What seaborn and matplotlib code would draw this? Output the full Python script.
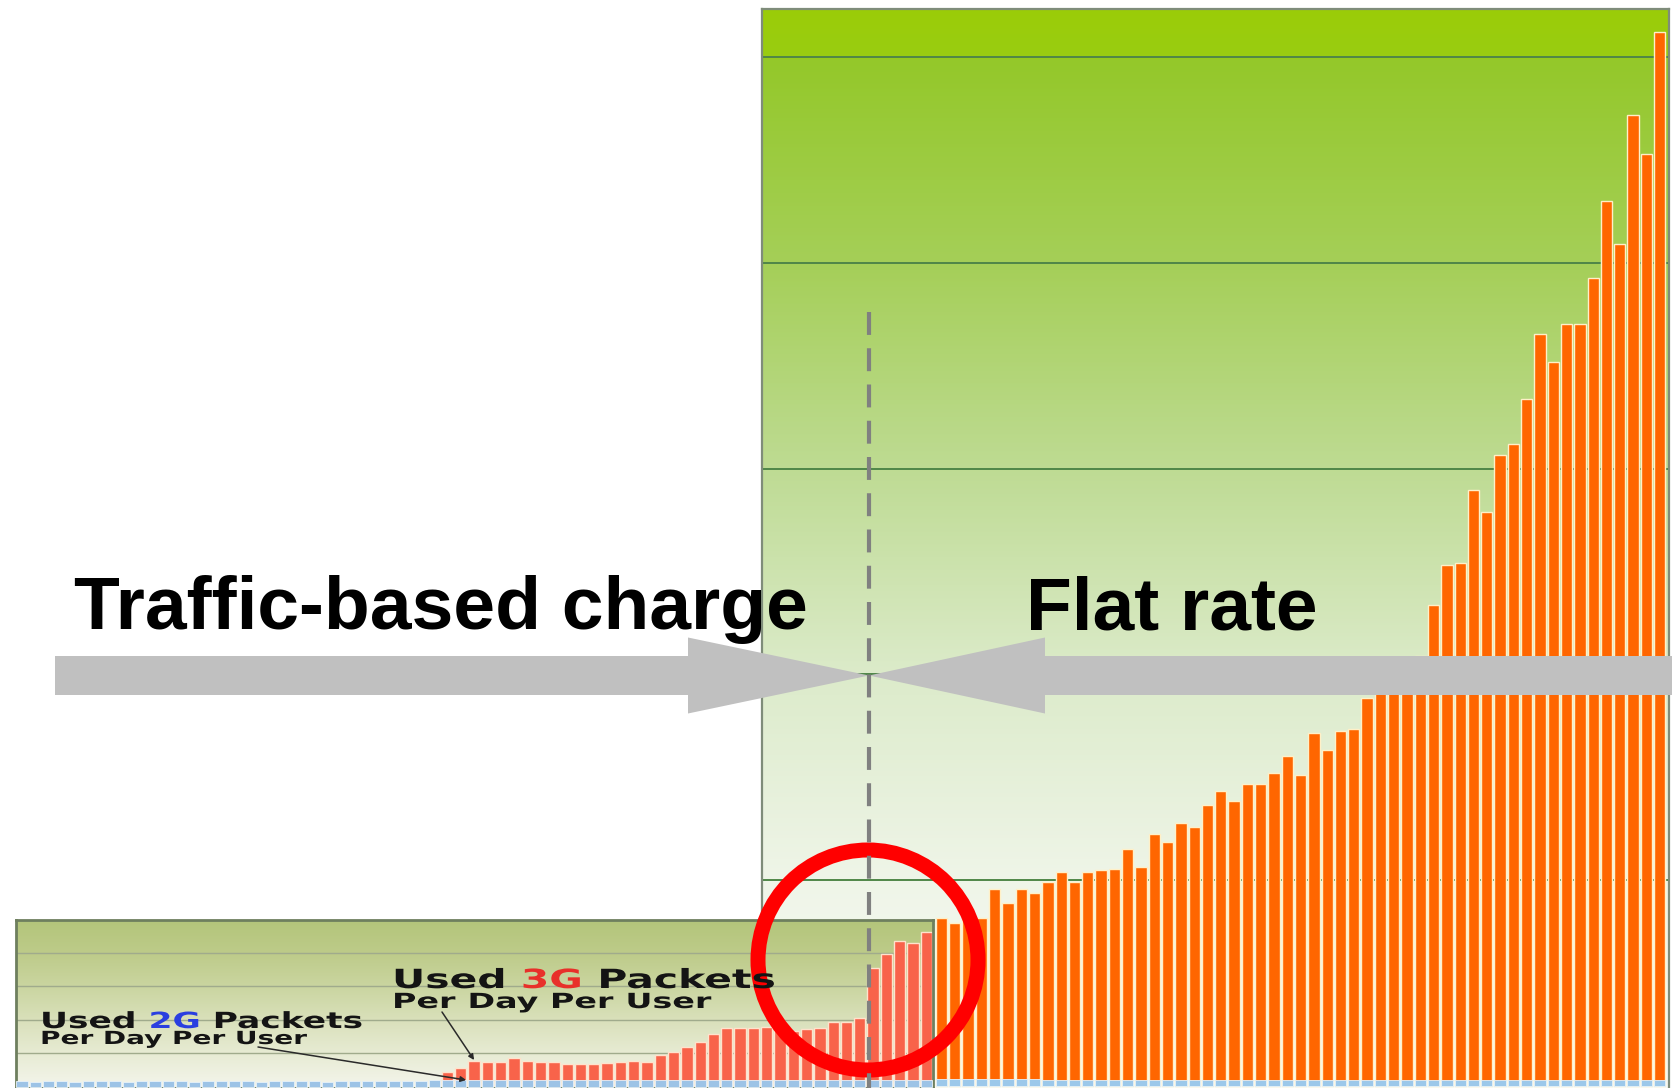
import numpy as np
import matplotlib
matplotlib.use("Agg")
import matplotlib.pyplot as plt
import seaborn as sns
from matplotlib.colors import LinearSegmentedColormap
from matplotlib.patches import Circle, FancyArrow
from matplotlib.transforms import Affine2D
import matplotlib.patheffects as pe

# ---------------------------------------------------------------------------
# Data
# ---------------------------------------------------------------------------
# Large panel: daily 3G packets per user after the move to a flat rate
periods_flat = list(range(1, 56))
flat_3g = [0.818, 0.790, 0.816, 0.818, 0.957, 0.891, 0.956, 0.936, 0.993, 1.038,
           0.993, 1.038, 1.048, 1.056, 1.150, 1.066, 1.223, 1.184, 1.276, 1.257,
           1.367, 1.432, 1.385, 1.467, 1.467, 1.522, 1.603, 1.513, 1.714, 1.633,
           1.723, 1.733, 1.887, 1.930, 1.960, 2.000, 2.089, 2.337, 2.532, 2.541,
           2.896, 2.789, 3.066, 3.120, 3.338, 3.654, 3.518, 3.703, 3.703, 3.926,
           4.300, 4.091, 4.718, 4.529, 5.121]
flat_2g = [0.035, 0.035, 0.034, 0.035, 0.036, 0.035, 0.034, 0.033, 0.030, 0.030,
           0.030, 0.031, 0.030, 0.030, 0.030, 0.029, 0.030, 0.030, 0.031, 0.030,
           0.030, 0.030, 0.030, 0.030, 0.030, 0.029, 0.030, 0.031, 0.030, 0.030,
           0.030, 0.030, 0.030, 0.029, 0.030, 0.030, 0.030, 0.030, 0.030, 0.030,
           0.029, 0.030, 0.030, 0.030, 0.030, 0.030, 0.030, 0.030, 0.029, 0.030,
           0.030, 0.030, 0.030, 0.030, 0.030]

# Small panel: daily packets per user under traffic-based charging
periods_traffic = list(range(1, 70))
traffic_2g = [0.16, 0.15, 0.17, 0.16, 0.15, 0.16, 0.17, 0.16, 0.15, 0.16,
              0.16, 0.17, 0.16, 0.15, 0.16, 0.17, 0.16, 0.16, 0.15, 0.16,
              0.17, 0.16, 0.16, 0.15, 0.16, 0.17, 0.16, 0.16, 0.17, 0.18,
              0.18, 0.19, 0.20, 0.20, 0.19, 0.20, 0.20, 0.19, 0.20, 0.20,
              0.19, 0.20, 0.20, 0.19, 0.20, 0.20, 0.19, 0.20, 0.20, 0.19,
              0.20, 0.20, 0.19, 0.20, 0.20, 0.19, 0.20, 0.20, 0.19, 0.20,
              0.20, 0.19, 0.20, 0.20, 0.19, 0.20, 0.20, 0.19, 0.20]
traffic_3g = [0.449, 0.569, 0.769, 0.749, 0.749, 0.850, 0.769, 0.749, 0.749, 0.671,
              0.671, 0.671, 0.701, 0.731, 0.769, 0.749, 0.949, 1.048, 1.198, 1.347,
              1.569, 1.749, 1.749, 1.766, 1.796, 1.772, 1.668, 1.713, 1.772, 1.946,
              1.946, 2.066, 3.554, 3.964, 4.377, 4.293, 4.641]
periods_traffic_3g = periods_traffic[len(periods_traffic) - len(traffic_3g):]

# ---------------------------------------------------------------------------
# Figure layout (pixel based)
# ---------------------------------------------------------------------------
sns.set_style("white")
plt.rcParams["font.family"] = ["DejaVu Sans"]

W, H = 1672, 1088
fig = plt.figure(figsize=(W / 100, H / 100), dpi=100)
fig.patch.set_facecolor("white")


def px_axes(left, top, right, bottom, z):
    return fig.add_axes([left / W, 1 - bottom / H, (right - left) / W, (bottom - top) / H],
                        zorder=z)


ax_big = px_axes(762, 8.5, 1669, H, 1)
ax_small = px_axes(16, 919.7, 933, H, 2)
ax_top = px_axes(0, 0, W, H, 3)


def gradient(ax, stops, xlim, ylim):
    y0, y1 = ylim
    span = y1 - y0
    cmap = LinearSegmentedColormap.from_list(
        "bg", [((v - y0) / span, c) for v, c in stops])
    ax.imshow(np.linspace(0, 1, 512)[:, None], extent=(xlim[0], xlim[1], y0, y1),
              origin="lower", aspect="auto", cmap=cmap, vmin=0, vmax=1,
              interpolation="bilinear", zorder=0)


# ---------------------------------------------------------------------------
# Large panel
# ---------------------------------------------------------------------------
big_xlim = (-13.5, 54.7)
big_ylim = (-0.01, 5.236)
gradient(ax_big, [(-0.01, "#f9fbf6"), (1.0, "#eff5e8"), (2.0, "#dcebca"),
                  (3.0, "#bedb93"), (4.0, "#a5cf58"), (4.99, "#94c82a"),
                  (5.0, "#99cc12"), (5.236, "#9bcd08")], big_xlim, big_ylim)
for v in [1, 2, 3, 4, 5]:
    ax_big.axhline(v, color="#4f8648", lw=1.4, zorder=0.5)

sns.barplot(x=periods_flat, y=flat_3g, order=periods_flat, color="#ff6600",
            saturation=1, width=0.85, edgecolor="#fff0c8", linewidth=1.0,
            errorbar=None, ax=ax_big, zorder=2)
sns.barplot(x=periods_flat, y=flat_2g, order=periods_flat, color="#9cc8ea",
            saturation=1, width=0.85, edgecolor="#e6f2fb", linewidth=0.6,
            errorbar=None, ax=ax_big, zorder=3)

ax_big.set_xlim(*big_xlim)
ax_big.set_ylim(*big_ylim)
ax_big.set_xticks([])
ax_big.set_yticks([])
ax_big.set_xlabel("")
ax_big.set_ylabel("")
for side in ["top", "left", "right"]:
    ax_big.spines[side].set_visible(True)
    ax_big.spines[side].set_color("#7f8c7a")
    ax_big.spines[side].set_linewidth(1.6)
ax_big.spines["bottom"].set_visible(False)

# ---------------------------------------------------------------------------
# Small panel
# ---------------------------------------------------------------------------
small_xlim = (-0.44, 68.5)
small_ylim = (-0.039, 5.0)
gradient(ax_small, [(-0.039, "#f4f5ec"), (1.0, "#e7ebd3"), (2.0, "#d9e0ba"),
                    (3.0, "#cad5a0"), (4.0, "#bdcb89"), (5.0, "#b3c57a")],
         small_xlim, small_ylim)
for v in [1, 2, 3, 4]:
    ax_small.axhline(v, color="#a0ab8c", lw=1.0, zorder=0.5)

sns.barplot(x=periods_traffic_3g, y=traffic_3g, order=periods_traffic, color="#f8634a",
            saturation=1, width=0.85, edgecolor="#ffe2cc", linewidth=1.0,
            errorbar=None, ax=ax_small, zorder=2)
sns.barplot(x=periods_traffic, y=traffic_2g, order=periods_traffic, color="#9dc3e6",
            saturation=1, width=0.85, edgecolor="#e8f2fa", linewidth=0.6,
            errorbar=None, ax=ax_small, zorder=3)

ax_small.set_xlim(*small_xlim)
ax_small.set_ylim(*small_ylim)
ax_small.set_xticks([])
ax_small.set_yticks([])
ax_small.set_xlabel("")
ax_small.set_ylabel("")
for side in ["top", "left", "right", "bottom"]:
    ax_small.spines[side].set_visible(True)
    ax_small.spines[side].set_color("#6e7f5e")
    ax_small.spines[side].set_linewidth(2.0)

# ---------------------------------------------------------------------------
# Overlay: arrows, headings, divider, highlight
# ---------------------------------------------------------------------------
ax_top.set_xlim(0, W)
ax_top.set_ylim(H, 0)
ax_top.axis("off")
ax_top.patch.set_alpha(0)

arrow_kw = dict(width=39, head_width=76, length_includes_head=True,
                color="#c0c0c0", lw=0, zorder=4)
ax_top.add_patch(FancyArrow(55, 675.5, 869 - 55, 0, head_length=181, **arrow_kw))
ax_top.add_patch(FancyArrow(1690, 675.5, 869 - 1690, 0, head_length=176, **arrow_kw))

ax_top.add_patch(Circle((868, 960), 110, fill=False, ec="#ff0000", lw=10.8, zorder=5))
ax_top.plot([869, 869], [312, H], color="#808080", lw=3.0,
            linestyle=(0, (5.5, 3.2)), dash_capstyle="butt", zorder=6)

head_kw = dict(fontfamily="Liberation Sans", fontweight="bold", fontsize=54,
               color="black", va="baseline", ha="left", zorder=7)
ax_top.text(74, 629, "Traffic-based charge", **head_kw)
ax_top.text(1026, 629, "Flat rate", **head_kw)


class StretchX(pe.AbstractPathEffect):
    """Widen glyphs horizontally about a fixed x position (display pixels)."""

    def __init__(self, factor, anchor_x):
        super().__init__()
        self._factor = factor
        self._anchor = anchor_x

    def draw_path(self, renderer, gc, tpath, affine, rgbFace=None):
        widen = (Affine2D().translate(-self._anchor, 0)
                 .scale(self._factor, 1).translate(self._anchor, 0))
        renderer.draw_path(gc, tpath, affine + widen, rgbFace)


def wide_label(x, y, pieces, size, factor):
    effect = [StretchX(factor, x)]
    kw = dict(fontfamily="DejaVu Sans", fontweight="bold", fontsize=size,
              path_effects=effect, zorder=7)
    prev = None
    for txt, col in pieces:
        if prev is None:
            prev = ax_top.text(x, y, txt, color=col, va="baseline", ha="left", **kw)
        else:
            prev = ax_top.annotate(txt, xy=(1, 0), xycoords=prev,
                                   xytext=(0.35 * size, 0), textcoords="offset points",
                                   color=col, va="bottom", ha="left", **kw)


wide_label(392, 988, [("Used", "#141414"), ("3G", "#e8302a"), ("Packets", "#141414")],
           19, 1.55)
wide_label(392, 1008, [("Per", "#141414"), ("Day", "#141414"), ("Per", "#141414"),
                       ("User", "#141414")], 15, 1.6)
wide_label(40, 1028, [("Used", "#141414"), ("2G", "#2a3fe0"), ("Packets", "#141414")],
           16, 1.55)
wide_label(40, 1044, [("Per", "#141414"), ("Day", "#141414"), ("Per", "#141414"),
                      ("User", "#141414")], 13, 1.55)

pointer = dict(arrowstyle="-|>", color="#2a2a2a", lw=1.1, mutation_scale=8,
               shrinkA=0, shrinkB=0)
ax_top.annotate("", xy=(34, traffic_3g[2] + 0.03), xycoords=ax_small.transData,
                xytext=(442, 1012), textcoords="data", arrowprops=pointer)
ax_top.annotate("", xy=(33.4, traffic_2g[33]), xycoords=ax_small.transData,
                xytext=(258, 1047), textcoords="data", arrowprops=pointer)

fig.savefig("out.png", dpi=100, facecolor="white")
